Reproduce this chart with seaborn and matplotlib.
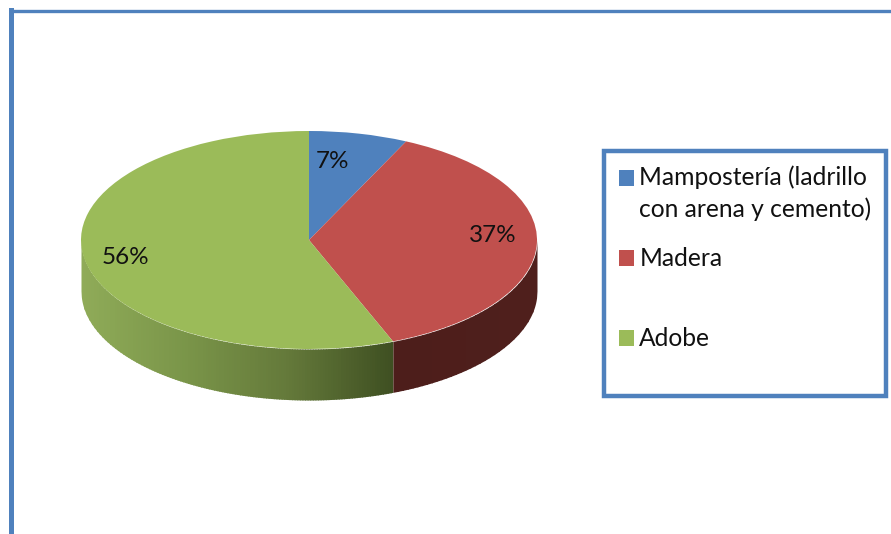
import numpy as np
import matplotlib
matplotlib.use('Agg')
import matplotlib.pyplot as plt
import seaborn as sns

categorias = ['Mampostería (ladrillo\ncon arena y cemento)', 'Madera\n ', 'Adobe\n ']
valores = [7, 37, 56]
colores = ['#4f81bd', '#c0504d', '#9bbb59']

sns.set_theme(style='white')
plt.rcParams['font.family'] = ['Lato', 'DejaVu Sans']

# pixel layout of the picture
W, H = 891, 534
cx, cy, rx, ry = 309, 240, 228, 109
depth = 51 / ry
frame = '#4f81bd'
left, top = 10.5, 10.5

fig = plt.figure(figsize=(W / 100, H / 100), dpi=100)
ax = fig.add_axes([left / W, 0, 1 - left / W, 1 - top / H])

# pie drawn in unit radius, axes limits squash it into an ellipse
wedges, _, autotexts = ax.pie(valores, colors=colores, startangle=90, counterclock=False,
                              autopct='%d%%', radius=1,
                              wedgeprops={'linewidth': 0, 'zorder': 5},
                              textprops={'fontsize': 17.5, 'color': '#111111', 'zorder': 6})
ax.set_aspect('auto')
ax.set_xlim((left - cx) / rx, (W - cx) / rx)
ax.set_ylim((cy - H) / ry, (cy - top) / ry)

for t, (px, py) in zip(autotexts, [(333, 161), (493, 235), (125, 257)]):
    t.set_position(((px - cx) / rx, (cy - py) / ry))

# side wall of the disc, only the front half is visible
corte = np.sin(np.radians(sum(valores[:2]) / 100 * 360))


def pared(x0, x1, tonos):
    bordes = np.linspace(x0, x1, len(tonos) + 1)
    for a, b, c in zip(bordes[:-1], bordes[1:], tonos):
        xs = np.linspace(a, min(b + 0.004, x1), 12)
        alto = -np.sqrt(np.clip(1 - xs ** 2, 0, 1))
        ax.fill_between(xs, alto, alto - depth, color=c, linewidth=0, zorder=2)


pared(-1, corte, sns.blend_palette(['#8fab58', '#7a9549', '#64793a', '#3f5022'], 120))
pared(corte, 1, sns.blend_palette(['#4d1e1b', '#4f1f1c'], 30))

ax.set_frame_on(True)
ax.spines['right'].set_visible(False)
ax.spines['bottom'].set_visible(False)
ax.spines['left'].set_visible(True)
ax.spines['top'].set_visible(True)
ax.spines['left'].set_color(frame)
ax.spines['top'].set_color(frame)
ax.spines['left'].set_linewidth(3.6)
ax.spines['top'].set_linewidth(2.4)

fs = 17.7
leg = ax.legend(wedges, categorias, loc='upper left',
                bbox_to_anchor=(604 / W, 1 - 151 / H), bbox_transform=fig.transFigure,
                fontsize=fs, frameon=True, fancybox=False, borderaxespad=0,
                borderpad=0.6, handlelength=0.62, handleheight=0.62,
                handletextpad=0.22, labelspacing=1.05)
leg.get_frame().set_edgecolor(frame)
leg.get_frame().set_linewidth(3.2)
leg.get_frame().set_alpha(1)
for t in leg.get_texts():
    t.set_linespacing(1.42)
    t.set_color('#111111')
# squares sit next to the first line of each label
for h in leg.legend_handles:
    h.set_y(h.get_y() + 11.9)

fig.savefig('out.png', dpi=100)
